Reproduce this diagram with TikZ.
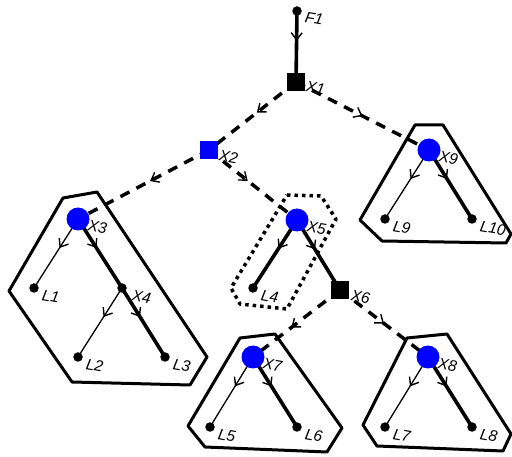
\documentclass[tikz,border=0pt]{standalone}
\usepackage{fontspec}
\setmainfont{Liberation Sans}
\usetikzlibrary{arrows.meta,decorations.markings}
\begin{document}
\begin{tikzpicture}[x=1pt,y=-1pt,
  lbl/.style={anchor=west,font=\fontsize{15.5}{15.5}\selectfont\itshape,inner sep=0pt,rotate=-10},
  leaf/.style={circle,fill=black,inner sep=0pt,minimum size=9.5pt},
  hub/.style={circle,fill=blue,inner sep=0pt,minimum size=23pt},
  sqnode/.style={rectangle,fill=black,inner sep=0pt,minimum size=17.5pt},
  bsqnode/.style={sqnode,fill=blue},
  midarrow/.style={postaction={decorate},decoration={markings,
      mark=at position #1 with {\arrow{Straight Barb[length=7pt,width=11pt,line width=1.4pt]}}}},
  midarrow/.default=0.42,
  thinedge/.style={line width=1.3pt,midarrow},
  boldedge/.style={line width=3.6pt,midarrow},
  dashedge/.style={line width=3.5pt,dash pattern=on 10pt off 8pt},
  grp/.style={line width=3pt,line join=round},
  dotgrp/.style={line width=3.5pt,dash pattern=on 3.5pt off 4pt,line join=round},
]
\useasboundingbox (0,0) rectangle (512,457);

% cluster outlines
\draw[grp] (63,198) -- (97,192) -- (207,357) -- (190,385) -- (72,382) -- (9,291) -- cycle;
\draw[grp] (415,125) -- (443,125) -- (511,234) -- (506,243) -- (382,241) -- (360,220) -- cycle;
\draw[grp] (240,338) -- (275,334) -- (342,428) -- (327,452) -- (205,447) -- (188,426) -- cycle;
\draw[grp] (407,338) -- (447,334) -- (511,434) -- (503,451) -- (377,446) -- (363,425) -- cycle;
\draw[dotgrp] (287,195) -- (321,196) -- (336,219) -- (287,309) -- (240,304) -- (231,288) -- cycle;

% vertices
\coordinate (cF1) at (297,11);
\coordinate (cX1) at (296,82);
\coordinate (cX2) at (209,150);
\coordinate (cX9) at (429,150);
\coordinate (cX3) at (78,219);
\coordinate (cX5) at (297,220);
\coordinate (cX4) at (122,288);
\coordinate (cX6) at (340,290);
\coordinate (cX7) at (253,357);
\coordinate (cX8) at (428,357);

% edges
\draw[boldedge=0.45] (cF1) -- (cX1);
\draw[dashedge,midarrow=0.45] (cX1) -- (cX2);
\draw[dashedge,midarrow=0.5] (cX1) -- (cX9);
\draw[dashedge,midarrow=0.45] (cX2) -- (cX3);
\draw[dashedge,midarrow=0.44] (cX2) -- (cX5);
\draw[boldedge=0.5] (cX5) -- (cX6);
\draw[dashedge,midarrow=0.56] (cX6) -- (cX7);
\draw[dashedge,midarrow=0.5] (cX6) -- (cX8);
\draw[thinedge=0.42] (cX3) -- (34,288) coordinate (cL1);
\draw[boldedge=0.42] (cX3) -- (cX4);
\draw[thinedge=0.42] (cX4) -- (78,357) coordinate (cL2);
\draw[boldedge=0.42] (cX4) -- (165,357) coordinate (cL3);
\draw[boldedge=0.42] (cX5) -- (253,288) coordinate (cL4);
\draw[thinedge=0.42] (cX9) -- (385,219) coordinate (cL9);
\draw[boldedge=0.42] (cX9) -- (472,219) coordinate (cL10);
\draw[thinedge=0.42] (cX7) -- (210,427) coordinate (cL5);
\draw[boldedge=0.42] (cX7) -- (297,427) coordinate (cL6);
\draw[thinedge=0.42] (cX8) -- (385,427) coordinate (cL7);
\draw[boldedge=0.42] (cX8) -- (472,427) coordinate (cL8);

% node markers
\node[leaf] (F1) at (cF1) {};
\node[sqnode] (X1) at (cX1) {};
\node[bsqnode] (X2) at (cX2) {};
\node[hub] (X9) at (cX9) {};
\node[hub] (X3) at (cX3) {};
\node[hub] (X5) at (cX5) {};
\node[leaf] (X4) at (cX4) {};
\node[sqnode] (X6) at (cX6) {};
\node[hub] (X7) at (cX7) {};
\node[hub] (X8) at (cX8) {};
\foreach \n in {L1,L2,L3,L4,L5,L6,L7,L8,L9,L10}
  \node[leaf] (\n) at (c\n) {};

% labels
\path (F1) ++(8,6) node[lbl] (tF1) {F1};
\path (X1) ++(10,4) node[lbl] (tX1) {X1};
\path (X2) ++(10,5) node[lbl] (tX2) {X2};
\path (X6) ++(11,5) node[lbl] (tX6) {X6};
\path (X4) ++(10,7) node[lbl] (tX4) {X4};
\foreach \n in {X3,X5,X7,X8,X9}
  \path (\n) ++(10,6) node[lbl] (t\n) {\n};
\foreach \n in {L1,L2,L3,L4,L5,L6,L7,L8,L9,L10}
  \path (\n) ++(8,7) node[lbl] (t\n) {\n};
\end{tikzpicture}
\end{document}
